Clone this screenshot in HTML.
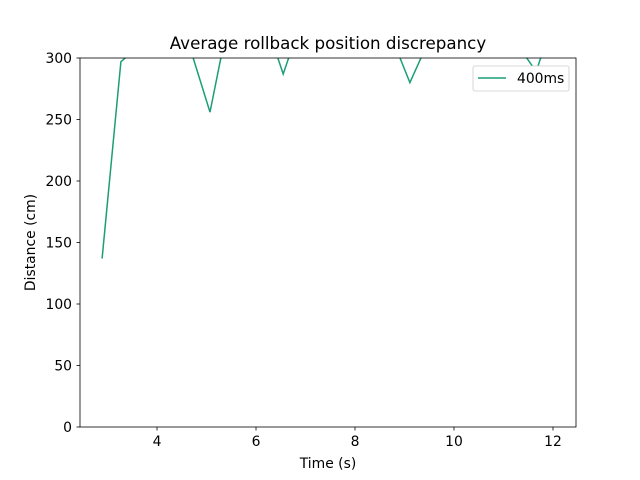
<!DOCTYPE html>
<html><head><meta charset="utf-8"><style>
body{margin:0;background:#fff;}
svg{display:block;font-family:"DejaVu Sans","Liberation Sans",sans-serif;}
</style></head><body>
<svg id="chart" width="640" height="480">
<defs><clipPath id="clip"><rect x="80" y="58" width="496" height="369"/></clipPath></defs>
<text x="328" y="49" text-anchor="middle" font-size="16.7">Average rollback position discrepancy</text>
<g id="xticks"></g>
<g id="yticks"></g>
<path id="line" fill="none" stroke="#1b9e77" stroke-width="1.5" clip-path="url(#clip)"/>
<rect x="80" y="58" width="496" height="369" fill="none" stroke="#000" stroke-width="0.8"/>
<text x="328" y="468" text-anchor="middle" font-size="13.9">Time (s)</text>
<text transform="translate(35,242.5) rotate(-90)" text-anchor="middle" font-size="13.9">Distance (cm)</text>
<g>
<rect x="473" y="66" width="96" height="25" rx="2" fill="#fff" stroke="#ccc" stroke-width="0.8"/>
<line x1="478" y1="78" x2="506" y2="78" stroke="#1b9e77" stroke-width="1.5"/>
<text x="517" y="83" font-size="13.9">400ms</text>
</g>
</svg>
<script>
const times=[2.89,3.27,3.5,4.6,5.07,5.4,6.4,6.55,6.7,8.8,9.11,9.4,11.4,11.66,11.8];
const distances=[137,297,305,317,256,322,305,287,305,311,280,306,304,289,306];
const xTicks=[4,6,8,10,12];
const yTicks=[0,50,100,150,200,250,300];
const X0=80,X1=576,Y0=427,Y1=58,xmin=2.444,xmax=12.465,ymin=0,ymax=300;
function xs(v){return X0+(v-xmin)/(xmax-xmin)*(X1-X0);}
function ys(v){return Y0-(v-ymin)/(ymax-ymin)*(Y0-Y1);}
const ns="http://www.w3.org/2000/svg";
const xg=document.getElementById('xticks'),yg=document.getElementById('yticks');
xTicks.forEach(t=>{
 const l=document.createElementNS(ns,'line');l.setAttribute('x1',xs(t));l.setAttribute('x2',xs(t));l.setAttribute('y1',427);l.setAttribute('y2',430.5);l.setAttribute('stroke','#000');l.setAttribute('stroke-width','0.8');
 
 
 xg.appendChild(l);
 const tx=document.createElementNS(ns,'text');tx.setAttribute('x',xs(t));tx.setAttribute('y',446);tx.setAttribute('text-anchor','middle');tx.setAttribute('font-size','13.9');tx.textContent=t;
 
 
 xg.appendChild(tx);
});
yTicks.forEach(t=>{
 const l=document.createElementNS(ns,'line');l.setAttribute('x1',76.5);l.setAttribute('x2',80);l.setAttribute('y1',ys(t));l.setAttribute('y2',ys(t));l.setAttribute('stroke','#000');l.setAttribute('stroke-width','0.8');
 
 
 yg.appendChild(l);
 const tx=document.createElementNS(ns,'text');tx.setAttribute('x',72);tx.setAttribute('y',ys(t)+5);tx.setAttribute('text-anchor','end');tx.setAttribute('font-size','13.9');tx.textContent=t;
 
 
 yg.appendChild(tx);
});
document.getElementById('line').setAttribute('d',times.map((t,i)=>(i?'L':'M')+xs(t).toFixed(1)+','+ys(distances[i]).toFixed(1)).join(''));
</script>
</body></html>
